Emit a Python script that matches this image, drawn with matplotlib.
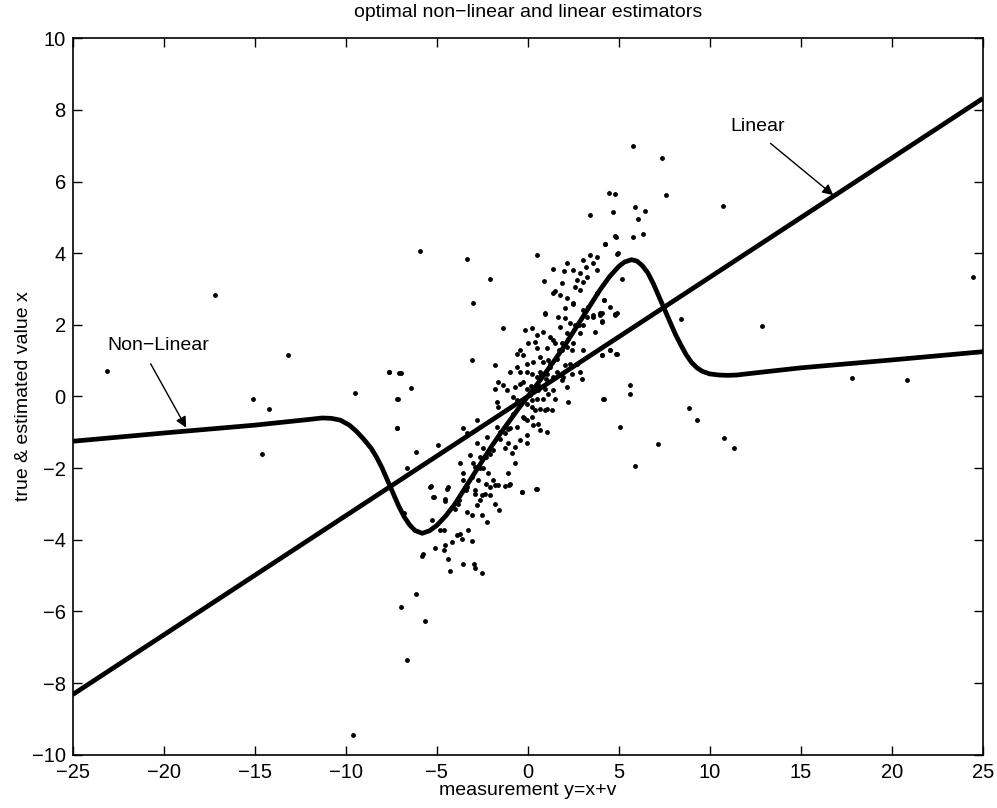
import numpy as np
import matplotlib
matplotlib.use("Agg")
import matplotlib.pyplot as plt

plt.rcParams['font.family'] = ['Liberation Sans', 'DejaVu Sans']

# optimal non-linear estimator
nl_x = [-25, -20, -15, -12, -11.3, -10.8, -10.3, -9.8, -9.4, -9.0, -8.6, -8.3, -8.0, -7.7,
        -7.4, -7.1, -6.8, -6.5, -6.2, -5.8, -5.4, -5.0, -4.5, -4.0, -3.5, -3.0, -2.5, -2.0,
        -1.5, -1.0, -0.5, 0, 0.5, 1.0, 1.5, 2.0, 2.5, 3.0, 3.5, 4.0, 4.5, 5.0, 5.3, 5.7, 6.0,
        6.3, 6.6, 6.9, 7.2, 7.5, 7.8, 8.1, 8.4, 8.7, 9.0, 9.3, 9.6, 10.0, 10.5, 11.0, 11.5,
        12, 15, 20, 25]
nl_y = [-1.25, -1.02, -0.80, -0.64, -0.60, -0.61, -0.66, -0.80, -0.98, -1.2, -1.45, -1.7,
        -2.0, -2.35, -2.7, -3.05, -3.35, -3.58, -3.74, -3.82, -3.75, -3.6, -3.33, -3.0, -2.6,
        -2.2, -1.8, -1.4, -1.03, -0.68, -0.33, 0, 0.33, 0.68, 1.03, 1.4, 1.8, 2.2, 2.6, 3.0,
        3.35, 3.63, 3.75, 3.82, 3.78, 3.65, 3.45, 3.15, 2.8, 2.45, 2.1, 1.75, 1.45, 1.17,
        0.95, 0.80, 0.70, 0.63, 0.60, 0.59, 0.60, 0.63, 0.80, 1.02, 1.25]

# optimal linear estimator
lin_x = [-25, 25]
lin_y = [-8.32, 8.32]

# measurement / true value samples
pts_x = [-23.1, -17.2, -13.2, -15.1, -14.2, -14.6, -9.5, -7.6, -7.1, -7.2, -7.2, -9.6,
         5.80, 7.36, 4.44, 4.77, 7.60, 10.75, 5.90, 6.45, 6.08, 4.80, 5.80, 6.32, 4.25, 4.92,
         5.16, 4.19, 4.80, 4.07, 4.07, 8.41, 12.86, 24.48, 17.84, 20.82, 4.52, 4.85, 4.07,
         5.62, 5.62, 4.19, 8.86, 9.30, 5.07, 7.14, 10.77, 11.32, 5.90,
         # upper part of cloud
         -5.92, -3.35, -2.07, 0.49, 0.91, 3.42, 4.70, 4.25, 4.85, 4.94, 1.41, 2.01, 2.51, 2.14,
         3.06, 3.42, 3.79, 3.20, 3.61, 1.87, 1.41, 1.50, 1.78, 2.14, 2.51, 2.60, 2.87, 3.06,
         3.24, 3.79, 4.19, 4.89, 0.95, 1.68, 2.05, 3.24, 3.61, 3.97, 2.87, 2.69,
         # middle of cloud
         -7.60, -6.98, -6.43, -7.11, -7.16, -6.14, -6.61, -4.91, -3.08, -1.80, -2.99, 0.95,
         2.05, 2.51, 3.06, 3.61, 3.97, 4.07, 4.80, 4.52, -1.34, -0.15, 0.22, 0.49, 0.86, 1.23,
         1.41, 1.78, 2.14, 2.32, 2.87, 3.70, 3.06, 0.04, 0.40, 0.49, 1.04, 1.50, 1.87, 2.14,
         2.51, 2.42, 3.06, 4.52, 4.89, 4.07, -0.61, -0.42, -0.24, -0.06, 0.31, 0.68, 0.86,
         1.13, 1.23, 1.59, 2.05, 2.32, 2.69, 1.96, 2.42, 2.87, 2.97, 1.87, 2.14, -0.97, -0.61,
         -0.42, -0.06, 0.22, 0.49, 0.68, 1.04, 1.41, 1.59, -1.61, -1.80, -1.34, -1.16, -0.70,
         -0.42, -0.24, -0.06, 0.31, 0.59, 0.95, 1.13, 1.41, 1.50, 0.86, 0.49, 0.22, 2.23, 4.16,
         -1.71, -1.61, -0.79, -0.61, -0.42, -0.06, 0.22, 0.40, 0.68, 1.04, 1.32, 0.95, -2.80,
         -1.71, -1.52, -1.25, -0.97, -0.61, -0.24, -0.06, 0.22, 0.31, 0.59, 0.68, 1.04, -0.06,
         -0.06, -0.42, -0.70, -0.88, -0.70, -1.06, -1.25, -3.54, -3.35, -2.25, -2.80, -2.44,
         -2.62, -3.17, -2.99, -3.72, -3.54, -2.90, -2.44, -2.16, -3.08, -2.71, -1.89, -1.61,
         -2.07, -2.35, -2.90, -3.35, -3.54, -1.06, -0.97, -0.33, 0.49, -2.53, -4.45, -5.37,
         -5.18, -4.54,
         # dots lying on the steep part of the curve
         -1.5, -1.2, 0.7, 1.2, 1.7, 2.2, 2.6, 3.3, 3.8, -2.3, -2.6, -3.4, -3.8, -1.9, 0.2,
         -0.3, 0.6, -0.8, 1.0, -0.2, 1.9, 2.8, -1.1, -2.1, 0.1,
         # lower part of cloud
         -5.31, -5.13, -4.54, -4.36, -5.24, -4.82, -4.58, -5.74, -5.83, -5.09, -4.54, -4.58,
         -4.18, -3.90, -3.72, -3.63, -3.30, -3.08, -4.36, -4.27, -3.54, -2.95, -2.90, -2.49,
         -6.14, -6.96, -5.64, -6.65, -0.30, 0.44, -1.01, -1.25, -1.80, -2.29, -2.62, -2.07,
         -1.80, -1.58, -2.25, -2.49, -2.80, -3.32, -3.08, -2.90, -6.80, -3.81, -3.99]
pts_y = [0.70, 2.84, 1.15, -0.07, -0.35, -1.60, 0.10, 0.69, 0.66, -0.07, -0.89, -9.45,
         6.99, 6.67, 5.67, 5.64, 5.62, 5.32, 5.30, 5.18, 4.95, 4.48, 4.46, 4.53, 4.27, 3.99,
         3.28, 2.69, 2.29, 2.32, 2.11, 2.17, 1.98, 3.34, 0.53, 0.46, 1.31, 1.20, 1.15,
         0.32, 0.08, -0.06, -0.31, -0.66, -0.85, -1.33, -1.15, -1.45, -1.95,
         4.07, 3.83, 3.29, 3.94, 3.22, 5.07, 5.16, 4.27, 4.46, 4.00, 3.56, 3.51, 3.53, 3.72,
         3.81, 3.95, 3.90, 3.62, 3.72, 3.16, 2.88, 2.95, 2.83, 2.74, 2.60, 3.06, 2.97, 3.20,
         3.34, 3.53, 2.69, 2.32, 2.32, 2.23, 2.18, 2.23, 2.23, 2.32, 3.44, 3.25,
         0.69, 0.66, 0.25, -0.06, -0.89, -1.55, -2.01, -1.36, 1.01, 0.87, 2.60, 2.30,
         2.46, 2.58, 2.41, 2.27, 2.27, 2.08, 2.27, 2.50, 1.90, 1.87, 1.90, 1.71, 1.81, 1.67,
         1.57, 1.95, 1.76, 2.04, 1.76, 1.81, 1.99, 1.48, 1.53, 1.34, 1.34, 1.48, 1.29, 1.39,
         1.48, 1.29, 1.29, 1.29, 1.20, 1.15, 1.20, 1.29, 1.15, 0.92, 0.97, 1.11, 0.97,
         1.01, 0.83, 1.06, 0.87, 0.92, 0.92, 0.55, 0.64, 0.69, 0.50, 0.46, 0.27, 0.69, 0.83,
         0.69, 0.69, 0.64, 0.55, 0.69, 0.64, 0.55, 0.69, 0.41, 0.22, 0.32, 0.18, 0.27,
         0.36, 0.41, 0.22, 0.18, 0.18, 0.22, 0.08, 0.18, -0.06, -0.06, -0.06, -0.10, -0.15, -0.06,
         -0.15, -0.29, -0.01, -0.10, -0.20, -0.20, -0.29, -0.38, -0.34, -0.34, -0.38, -0.38, -0.66,
         -0.85, -0.99, -1.03, -0.89, -0.85, -0.57, -0.66, -0.57, -0.80, -0.76, -0.94, -0.99, -1.08,
         -1.31, -1.22, -1.41, -1.59, -1.87, -1.31, -1.45, -0.89, -1.03, -1.13, -1.31, -1.45,
         -1.69, -1.64, -1.87, -1.87, -2.15, -1.97, -2.01, -2.15, -2.24, -2.34, -2.34, -2.48,
         -2.52, -2.71, -2.62, -2.52, -2.34, -2.15, -2.43, -2.66, -2.57, -2.76, -2.57, -2.52,
         -2.80, -2.85,
         -1.2, -0.8, 0.6, 0.9, 1.3, 1.6, 2.0, 2.5, 2.9, -1.7, -2.0, -2.6, -2.9, -1.5, 0.3,
         -0.1, 0.3, -0.5, 0.5, -0.6, 1.5, 2.0, -0.9, -1.6, 0.05,
         -2.51, -2.80, -2.92, -2.54, -3.44, -3.73, -3.72, -4.39, -4.46, -4.23, -4.15, -4.29,
         -4.06, -3.87, -3.83, -3.97, -3.72, -4.04, -4.55, -4.86, -4.67, -4.67, -4.79, -4.94,
         -5.52, -5.89, -6.28, -7.37, -2.66, -2.57, -2.46, -2.51, -2.48, -2.45, -2.90, -2.76,
         -2.99, -3.18, -3.50, -3.30, -3.04, -3.22, -3.32, -2.71, -3.25, -2.99, -3.13]

xticks = list(range(-25, 26, 5))
yticks = list(range(-10, 11, 2))

fig = plt.figure(figsize=(9.97, 8.08), dpi=100)
ax = fig.add_axes([0.073, 0.066, 0.9127, 0.8866])

ax.plot(pts_x, pts_y, 'o', color='black', markersize=3.5, markeredgewidth=0)
ax.plot(lin_x, lin_y, color='black', linewidth=3.4, solid_capstyle='butt')
ax.plot(nl_x, nl_y, color='black', linewidth=3.4, solid_joinstyle='round')

ax.annotate('Non\u2212Linear', xy=(-18.77, -0.87), xytext=(-23.1, 1.43),
            fontsize=14, va='center', ha='left',
            arrowprops=dict(arrowstyle='-|>', color='black', lw=1.0,
                            shrinkA=6, shrinkB=0, mutation_scale=16,
                            relpos=(0.37, 0.0)))
ax.annotate('Linear', xy=(16.79, 5.62), xytext=(11.15, 7.53),
            fontsize=14, va='center', ha='left',
            arrowprops=dict(arrowstyle='-|>', color='black', lw=1.0,
                            shrinkA=6, shrinkB=0, mutation_scale=16,
                            relpos=(0.55, 0.0)))

ax.set_xlim(-25, 25)
ax.set_ylim(-10, 10)
ax.set_xticks(xticks)
ax.set_yticks(yticks)
ax.set_xticklabels([str(v).replace('-', '\u2212') for v in xticks])
ax.set_yticklabels([str(v).replace('-', '\u2212') for v in yticks])
ax.tick_params(direction='in', length=6.5, width=1, top=True, right=True, labelsize=14.5)
ax.tick_params(axis='x', pad=6)
ax.tick_params(axis='y', pad=5)
for s in ax.spines.values():
    s.set_linewidth(1.2)

ax.set_title('optimal non\u2212linear and linear estimators', fontsize=14, pad=15)
ax.set_xlabel('measurement y=x+v', fontsize=14, labelpad=0)
ax.set_ylabel('true & estimated value x', fontsize=14, labelpad=0)

fig.savefig('out.png', dpi=100)
